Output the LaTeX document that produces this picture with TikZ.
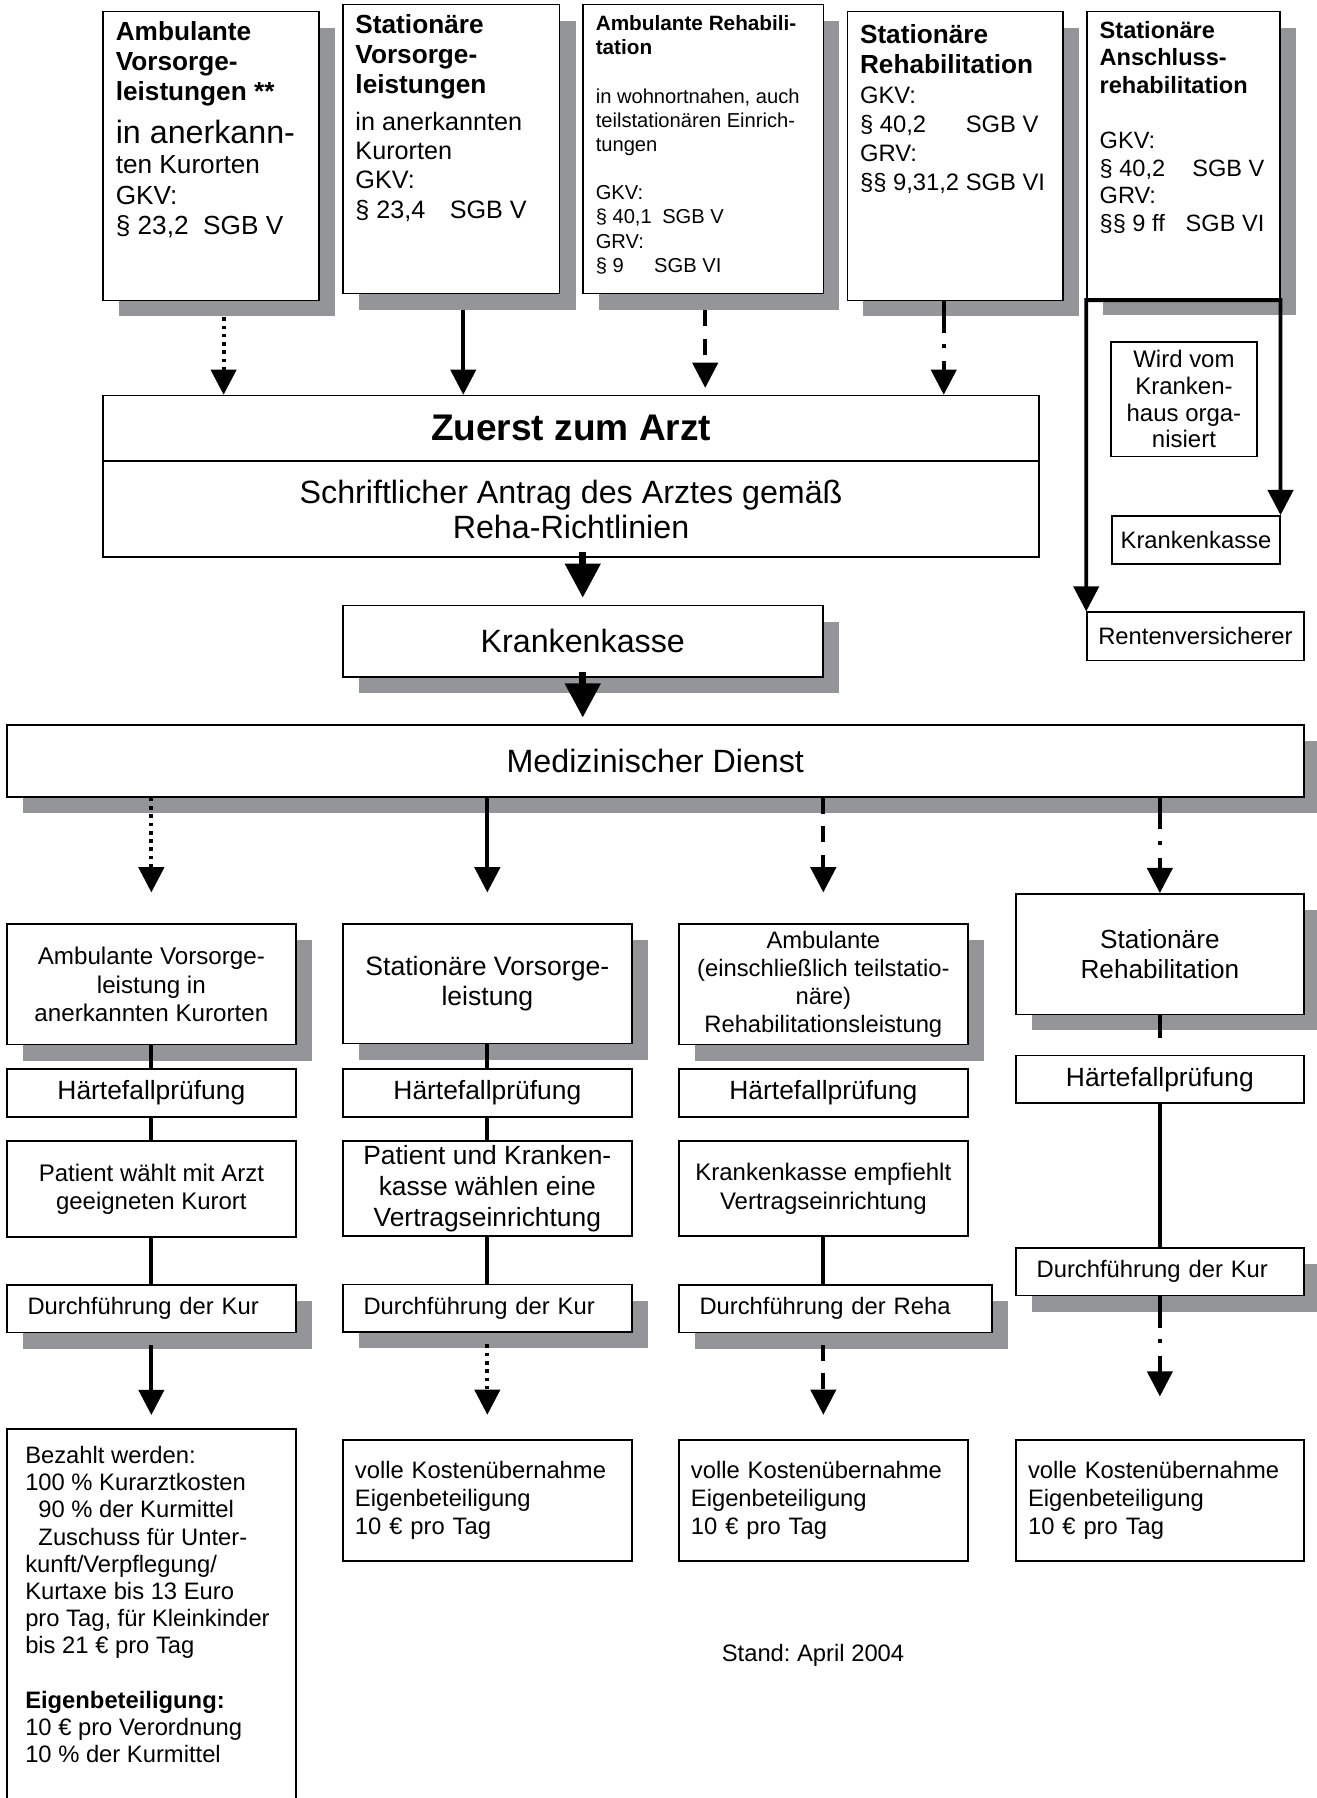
\documentclass[tikz,border=0pt]{standalone}
\usepackage{fontspec}
\setmainfont{Liberation Sans}
\usetikzlibrary{arrows.meta, shadows, calc}
\definecolor{shadowgray}{RGB}{147,149,152}
\newcommand{\cellbox}[3]{\parbox[c][#2][t]{#1}{\raggedright #3}}
\frenchspacing

\begin{document}
\begin{tikzpicture}[
    x=0.02cm, y=-0.02cm,
    box/.style={draw, line width=0.85pt, fill=white, inner sep=0pt, align=center, font=\fontsize{11.8}{14}\selectfont},
    shadowed/.style={general shadow={fill=shadowgray, shadow xshift=0.28cm, shadow yshift=-0.28cm}},
    topbox/.style={box, shadowed, inner xsep=0.22cm, inner ysep=0.17cm},
    checkbox/.style={box, minimum height=0.84cm, font=\fontsize{13.1}{15}\selectfont},
    kurbox/.style={box, shadowed, align=left, inner xsep=0.36cm, minimum height=0.83cm},
    costbox/.style={box, align=left, inner xsep=0.21cm, minimum height=2.11cm, font=\fontsize{11.8}{13.8}\selectfont},
    link/.style={draw, line width=1.9pt},
    dotline/.style={dash pattern=on 1.8pt off 2.3pt},
    dashline/.style={dash pattern=on 7.9pt off 6.3pt},
    dotdashline/.style={dash pattern=on 15.6pt off 5.7pt on 2pt off 6.4pt},
    bigarrow/.style={draw, line width=3.6pt, -{Triangle[width=17pt,length=17pt]}},
    >={Triangle[width=12.5pt,length=12.5pt]}
]
\useasboundingbox (0,0) rectangle (1148,1568);

% Leistungsarten
\node[topbox] (b1) at (184,136) {\cellbox{3.32cm}{4.70cm}{%
  \fontsize{13}{15}\selectfont\bfseries Ambulante\\Vorsorge-\\leistungen **\par
  \fontsize{16}{21.5}\selectfont\mdseries in anerkann-\par
  \fontsize{13}{14.8}\selectfont ten Kurorten\par
  \fontsize{13}{15}\selectfont GKV:\\§ 23,2\ \ SGB V}};
\node[topbox] (b2) at (393.5,130) {\cellbox{3.34cm}{4.70cm}{%
  \fontsize{13}{15}\selectfont\bfseries Stationäre\\Vorsorge-\\leistungen\par
  \fontsize{12.5}{18.2}\selectfont\mdseries in anerkannten\par
  \fontsize{12.5}{14.5}\selectfont Kurorten\\GKV:\\\makebox[46.8pt][l]{§ 23,4}SGB V}};
\node[topbox, inner ysep=0.19cm] (b3) at (613.3,130) {\cellbox{3.75cm}{4.66cm}{%
  \fontsize{10}{12}\selectfont{\fontsize{10.3}{12}\selectfont\bfseries Ambulante Rehabili-\\tation}\\[12pt]
  in wohnortnahen, auch\\teilstationären Einrich-\\tungen\\[12pt]
  GKV:\\\makebox[33pt][l]{§ 40,1}SGB V\\GRV:\\\makebox[29pt][l]{§ 9}SGB VI}};
\node[topbox, inner ysep=0.23cm] (b4) at (833,136) {\cellbox{3.32cm}{4.58cm}{%
  \fontsize{13}{15}\selectfont\bfseries Stationäre\\Rehabilitation\par
  \fontsize{11.8}{14.5}\selectfont\mdseries GKV:\\\makebox[52.5pt][l]{§ 40,2}SGB V\\GRV:\\§§ 9,31,2 SGB VI}};
\node[topbox] (b5) at (1032,135.5) {\cellbox{2.92cm}{4.68cm}{%
  \fontsize{11.7}{13.7}\selectfont\bfseries Stationäre\\Anschluss-\\rehabilitation\par
  \mdseries\mbox{}\\GKV:\\\makebox[46pt][l]{§ 40,2}SGB V\\GRV:\\\makebox[42.7pt][l]{§§ 9 ff}SGB VI}};

% Anschlussreha
\node[box, minimum width=2.54cm, minimum height=2cm, font=\fontsize{11.9}{13.3}\selectfont] (wird) at (1032.5,348) {Wird vom\\Kranken-\\haus orga-\\nisiert};
\node[box, minimum width=2.92cm, minimum height=0.84cm] (kk2) at (1043,471) {Krankenkasse};
\node[box, minimum width=3.78cm, minimum height=0.84cm] (rente) at (1042.5,555) {Rentenversicherer};

% Antrag
\node[box, minimum width=16.32cm, minimum height=1.14cm, font=\fontsize{18.4}{22}\selectfont\bfseries] (arzt) at (498,373.5) {Zuerst zum Arzt};
\node[box, minimum width=16.32cm, minimum height=1.68cm, font=\fontsize{16}{17.3}\selectfont] (antrag) at (498,444) {Schriftlicher Antrag des Arztes gemäß\\Reha-Richtlinien};
\node[box, shadowed, minimum width=8.37cm, minimum height=1.25cm, font=\fontsize{16}{19}\selectfont] (kk) at (508.2,559.3) {Krankenkasse};
\node[box, shadowed, minimum width=22.62cm, minimum height=1.25cm, font=\fontsize{16}{19}\selectfont] (med) at (571.5,663.8) {Medizinischer Dienst};

% Spalten
\node[box, shadowed, minimum width=5.04cm, minimum height=2.10cm, font=\fontsize{12}{14.2}\selectfont] (a1) at (132,858.5) {Ambulante Vorsorge-\\leistung in\\anerkannten Kurorten};
\node[box, shadowed, minimum width=5.04cm, minimum height=2.08cm, font=\fontsize{13.2}{14.7}\selectfont] (a2) at (425,858) {Stationäre Vorsorge-\\leistung};
\node[box, shadowed, minimum width=5.04cm, minimum height=2.10cm, font=\fontsize{11.8}{13.9}\selectfont] (a3) at (718,858.5) {Ambulante\\(einschließlich teilstatio-\\näre)\\Rehabilitationsleistung};
\node[box, shadowed, minimum width=5.02cm, minimum height=2.10cm, font=\fontsize{13}{15.2}\selectfont] (a4) at (1011.5,832.1) {Stationäre\\Rehabilitation};

\node[checkbox, minimum width=5.04cm] (h1) at (132,953) {Härtefallprüfung};
\node[checkbox, minimum width=5.04cm] (h2) at (425,953) {Härtefallprüfung};
\node[checkbox, minimum width=5.04cm] (h3) at (718,953) {Härtefallprüfung};
\node[checkbox, minimum width=5.02cm, minimum height=0.83cm] (h4) at (1011.5,941.3) {Härtefallprüfung};

\node[box, minimum width=5.04cm, minimum height=1.67cm, font=\fontsize{11.9}{13.9}\selectfont] (p1) at (132,1036.8) {Patient wählt mit Arzt\\geeigneten Kurort};
\node[box, minimum width=5.04cm, minimum height=1.66cm, font=\fontsize{13.1}{15.3}\selectfont] (p2) at (425,1036.5) {Patient und Kranken-\\kasse wählen eine\\Vertragseinrichtung};
\node[box, minimum width=5.04cm, minimum height=1.66cm, font=\fontsize{11.9}{14.2}\selectfont] (p3) at (718,1036.5) {Krankenkasse empfiehlt\\Vertragseinrichtung};

\node[kurbox, text width=4.32cm] (d1) at (132,1141.3) {Durchführung der Kur};
\node[kurbox, text width=4.32cm] (d2) at (425,1141) {Durchführung der Kur};
\node[kurbox, text width=4.74cm] (d3) at (728.5,1141.3) {Durchführung der Reha};
\node[kurbox, text width=4.30cm] (d4) at (1011.5,1109) {Durchführung der Kur};

% Kosten
\node[box, anchor=north, inner xsep=0.32cm, inner ysep=0.3cm] (e1) at (132,1245.5) {\cellbox{4.40cm}{6.5cm}{%
  \fontsize{11.8}{13.5}\selectfont Bezahlt werden:\\100 \% Kurarztkosten\\\phantom{1}90 \% der Kurmittel\\\phantom{1}Zuschuss für Unter-\\kunft/Verpflegung/\\Kurtaxe bis 13 Euro\\pro Tag, für Kleinkinder\\bis 21 € pro Tag\\[13.5pt]
  \textbf{Eigenbeteiligung:}\\10 € pro Verordnung\\10 \% der Kurmittel}};
\node[costbox, text width=4.62cm] (e2) at (425,1308.3) {volle Kostenübernahme\\Eigenbeteiligung\\10 € pro Tag};
\node[costbox, text width=4.62cm] (e3) at (718,1308.3) {volle Kostenübernahme\\Eigenbeteiligung\\10 € pro Tag};
\node[costbox, text width=4.60cm] (e4) at (1011.5,1308.3) {volle Kostenübernahme\\Eigenbeteiligung\\10 € pro Tag};

\node[font=\fontsize{11.8}{14}\selectfont] (stand) at (709,1444) {Stand: April 2004};

% Pfeile oben
\draw[link, ->, dotline] ($(b1.south)+(11,14)$) -- ($(b1.south |- arzt.north)+(11,0)$);
\draw[link, ->] ($(b2.south)+(10.5,14)$) -- ($(b2.south |- arzt.north)+(10.5,0)$);
\draw[link, ->, dashline] ($(b3.south)+(1.7,14)$) -- ($(b3.south |- arzt.north)+(1.7,-6)$);
\draw[link, ->, dotdashline] ($(b4.south)+(-10,0)$) -- ($(b4.south |- arzt.north)+(-10,0)$);
\draw[link, <->] (rente.north west) -- (b5.south west) -- (b5.south east) -- (kk2.north east);

\draw[bigarrow] ($(kk.north |- antrag.south)+(0,-5)$) -- ($(kk.north)+(0,-6)$);
\draw[bigarrow] ($(kk.south)+(0,-5)$) -- ($(kk.south |- med.north)+(0,-6)$);

% Pfeile zu den Spalten
\draw[link, ->, dotline] (med.south -| a1.north) -- ($(a1.north)+(0,-27)$);
\draw[link, ->] (med.south -| a2.north) -- ($(a2.north)+(0,-27)$);
\draw[link, ->, dashline] (med.south -| a3.north) -- ($(a3.north)+(0,-27)$);
\draw[link, ->, dotdashline] (med.south -| a4.north) -- (a4.north);

% Spalten verbinden
\draw[link] (a1) -- (h1) (h1) -- (p1) (p1) -- (d1);
\draw[link] (a2) -- (h2) (h2) -- (p2) (p2) -- (d2);
\draw[link] (p3.south) -- (p3.south |- d3.north);
\coordinate (a4end) at ($(a4.south)+(0,19.5)$);
\draw[link] (a4) -- (a4end);
\draw[link] (h4) -- (d4);

% Pfeile unten
\draw[link, ->] ($(d1.south)+(0,10)$) -- ($(e1.north)+(0,-11.5)$);
\draw[link, ->, dotline] ($(d2.south)+(0,10)$) -- ($(e2.north)+(0,-21)$);
\draw[link, ->, dashline] ($(d3.south -| e3.north)+(0,10)$) -- ($(e3.north)+(0,-21)$);
\draw[link, ->, dotdashline] (d4.south) -- ($(e4.north)+(0,-37)$);
\end{tikzpicture}
\end{document}
